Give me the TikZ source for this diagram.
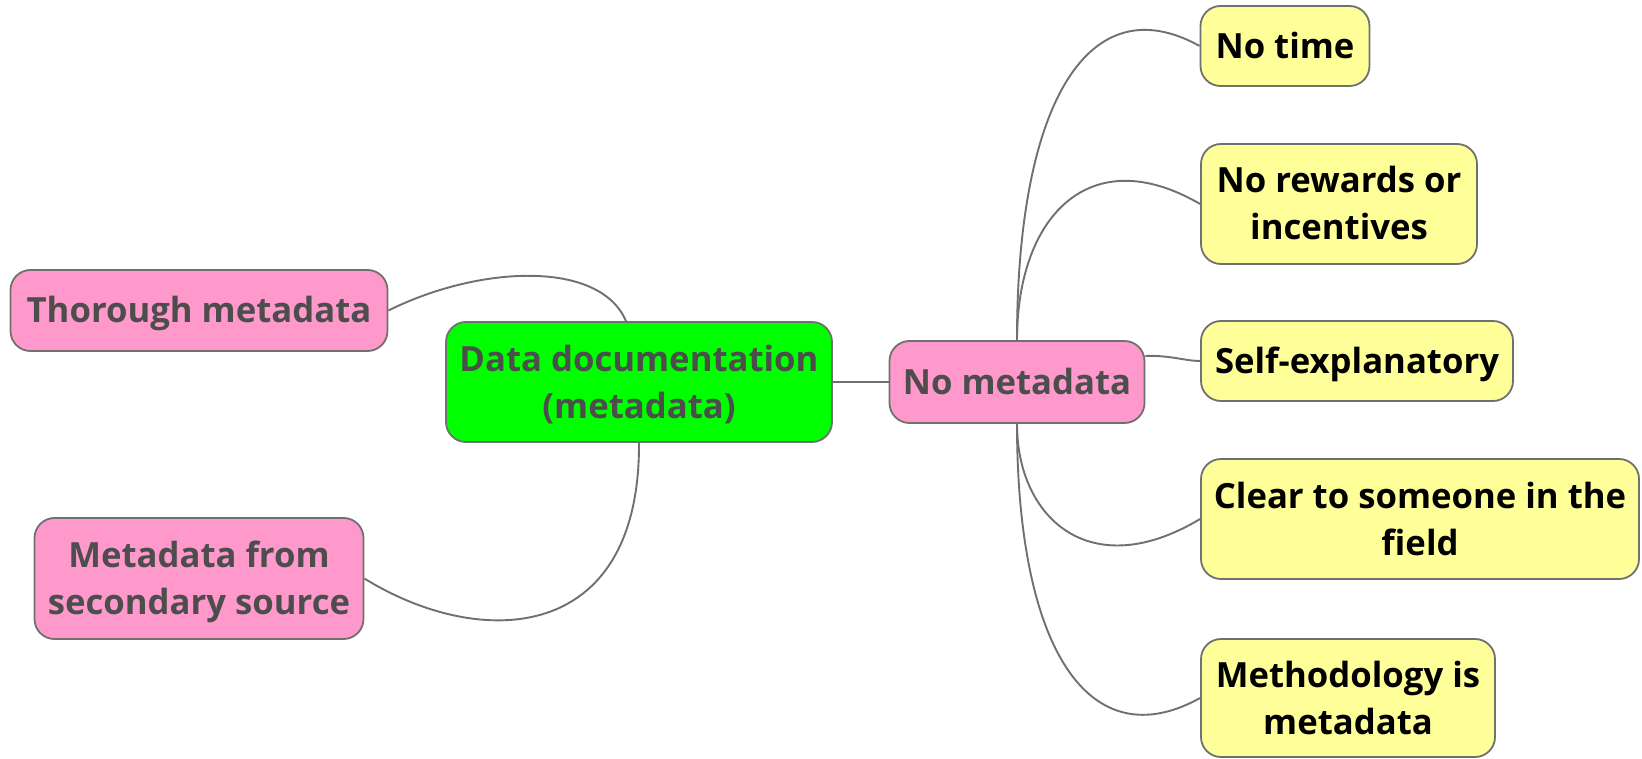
\documentclass[tikz,border=0pt]{standalone}
\usepackage{fontspec}
\setmainfont{Open Sans}
\usetikzlibrary{calc}
\definecolor{pinkfill}{HTML}{FF99CC}
\definecolor{greenfill}{HTML}{00FF00}
\definecolor{yellowfill}{HTML}{FFFF99}
\definecolor{edgegray}{HTML}{707070}
\definecolor{textgray}{HTML}{4D4D4D}
\newcommand{\lnstrut}{\rule[-9pt]{0pt}{43pt}}
\begin{document}
\begin{tikzpicture}[x=1pt,y=-1pt,
  box/.style={draw=edgegray, line width=1.8pt, rounded corners=20pt, align=center,
    font=\bfseries\fontsize{34.7}{47}\selectfont, inner sep=0pt},
  pinkbox/.style={box, fill=pinkfill, text=textgray},
  greenbox/.style={box, fill=greenfill, text=textgray},
  yellowbox/.style={box, fill=yellowfill, text=black},
  link/.style={draw=edgegray, line width=1.9pt}]
\useasboundingbox (0,0) rectangle (1642,759);
\fill[white] (0,0) rectangle (1642,759);

\node[greenbox, minimum width=386pt, minimum height=120pt] (dd) at (639,382) {\lnstrut Data documentation\\\lnstrut(metadata)};
\node[pinkbox, minimum width=377pt, minimum height=81pt] (thor) at (199,310.5) {\lnstrut Thorough metadata};
\node[pinkbox, minimum width=329pt, minimum height=121pt] (sec) at (199,578.5) {\lnstrut Metadata from\\\lnstrut secondary source};
\node[pinkbox, minimum width=255pt, minimum height=82pt] (nm) at (1017,382) {\lnstrut No metadata};
\node[yellowbox, minimum width=169pt, minimum height=80pt] (nt) at (1285,46) {\lnstrut No time};
\node[yellowbox, minimum width=276pt, minimum height=120pt] (nr) at (1339,204) {\lnstrut No rewards or\\\lnstrut incentives};
\node[yellowbox, minimum width=312pt, minimum height=80pt] (se) at (1357,361) {\lnstrut Self-explanatory};
\node[yellowbox, minimum width=438pt, minimum height=120pt] (cl) at (1420,519) {\lnstrut Clear to someone in the\\\lnstrut field};
\node[yellowbox, minimum width=294pt, minimum height=118pt] (me) at (1348,698) {\lnstrut Methodology is\\\lnstrut metadata};

\draw[link] (thor.east) .. controls (480,265) and (600,260) .. ([xshift=-13pt]dd.north);
\draw[link] (dd.south) .. controls (640,645) and (480,650) .. (sec.east);
\draw[link] (dd.east) -- (nm.west);
\draw[link] (nm.north) .. controls (1017,100) and (1090,-15) .. (nt.west);
\draw[link] (nm.north) .. controls (1017,216) and (1090,140) .. (nr.west);
\draw[link] ([yshift=26pt]nm.east) .. controls (1170,355) and (1185,361) .. (se.west);
\draw[link] (nm.south) .. controls (1017,518) and (1090,585) .. (cl.west);
\draw[link] (nm.south) .. controls (1017,651) and (1090,759) .. (me.west);
\end{tikzpicture}
\end{document}
